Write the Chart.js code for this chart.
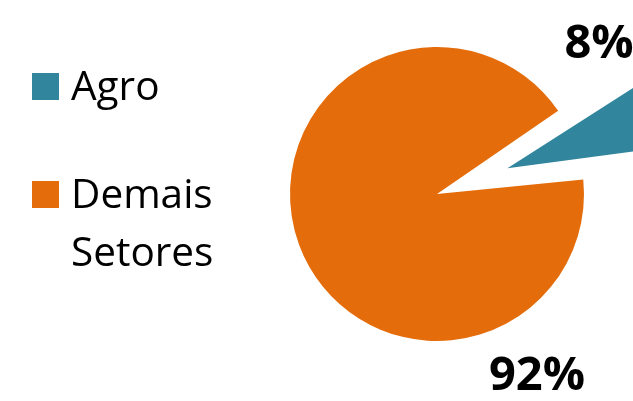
<!DOCTYPE html>
<html>
<head>
<meta charset="utf-8">
<script src="https://cdn.jsdelivr.net/npm/chart.js@4/dist/chart.umd.min.js"></script>
<style>
  html, body { margin: 0; padding: 0; background: #fff; }
  #wrap { width: 633px; height: 401px; position: relative; }
</style>
</head>
<body>
<div id="wrap"><canvas id="pie"></canvas></div>
<script>
const categories = ['Agro', 'Demais Setores'];
const legendLines = [['Agro'], ['Demais', 'Setores']];
const shares = [8, 92];
const sliceColors = ['#31859C', '#E46C0A'];
const sliceOffsets = [300, 0];

// where each percent label sits, relative to the pie centre
const labelSpots = [{ dx: 162, dy: -136 }, { dx: 100, dy: 196 }];

// legend on the left, second entry wraps over two lines
const sideLegend = {
    id: 'sideLegend',
    afterDraw(chart) {
        const ctx = chart.ctx;
        const tops = [73, 181];
        ctx.save();
        ctx.font = '40.5px "Open Sans"';
        ctx.fillStyle = '#000';
        ctx.textBaseline = 'alphabetic';
        legendLines.forEach((lines, i) => {
            ctx.fillStyle = sliceColors[i];
            ctx.fillRect(32, tops[i], 27, 27);
            ctx.fillStyle = '#000';
            lines.forEach((t, j) => ctx.fillText(t, 71, tops[i] + 27 + j * 58));
        });
        ctx.restore();
    }
};

const pctLabels = {
    id: 'pctLabels',
    afterDatasetsDraw(chart) {
        const ctx = chart.ctx;
        const arc = chart.getDatasetMeta(0).data[0];
        ctx.save();
        ctx.font = 'bold 47px "Open Sans"';
        ctx.fillStyle = '#000';
        ctx.textAlign = 'center';
        ctx.textBaseline = 'alphabetic';
        shares.forEach((v, i) => {
            ctx.fillText(v + '%', arc.x + labelSpots[i].dx, arc.y + labelSpots[i].dy);
        });
        ctx.restore();
    }
};

new Chart(document.getElementById('pie'), {
    type: 'pie',
    data: {
        labels: categories,
        datasets: [{
            data: shares,
            backgroundColor: sliceColors,
            borderWidth: 0,
            offset: sliceOffsets,
            hoverOffset: 0
        }]
    },
    options: {
        responsive: true,
        maintainAspectRatio: false,
        animation: false,
        rotation: 55.5,
        radius: 147,
        layout: { padding: { left: 241, right: 0, top: 0, bottom: 13 } },
        plugins: {
            legend: { display: false },
            tooltip: { enabled: false }
        }
    },
    plugins: [sideLegend, pctLabels]
});
</script>
</body>
</html>
